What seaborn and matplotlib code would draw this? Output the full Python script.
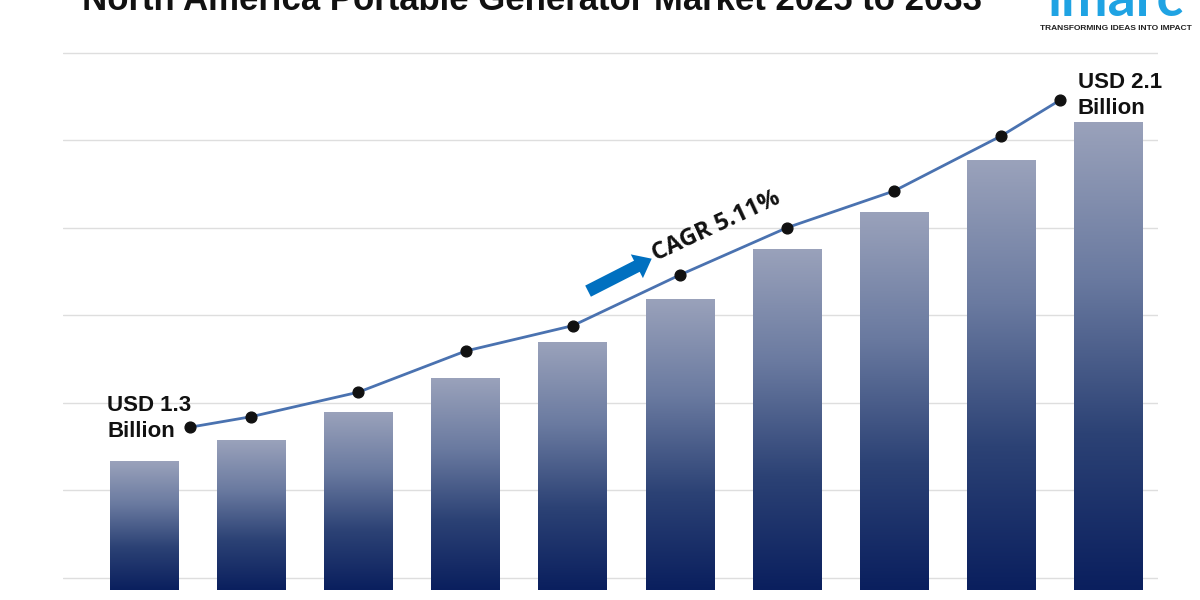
import numpy as np
import pandas as pd
import seaborn as sns
import matplotlib
matplotlib.use("Agg")
import matplotlib.pyplot as plt
from matplotlib.colors import LinearSegmentedColormap

# data (illustrative heights, in gridline units)
years = ["2024", "2025", "2026", "2027", "2028", "2029", "2030", "2031", "2032", "2033"]
bar_values = [1.47, 1.71, 2.03, 2.42, 2.83, 3.33, 3.90, 4.32, 4.91, 5.35]
trend_values = [1.86, 1.98, 2.26, 2.73, 3.02, 3.60, 4.14, 4.56, 5.19, 5.60]
start_label = "USD 1.3\nBillion"
end_label = "USD 2.1\nBillion"
cagr_label = "CAGR 5.11%"
title = "North America Portable Generator Market 2025 to 2033"

sns.set_theme(style="white")
plt.rcParams['font.family'] = ['Liberation Sans', 'DejaVu Sans']

fig = plt.figure(figsize=(12, 6), dpi=100)
ax = fig.add_axes([0.0525, 0.0133, 0.9125, 0.9034])

df = pd.DataFrame({"year": years, "value": bar_values})
sns.barplot(data=df, x="year", y="value", ax=ax, width=0.64, color="#3a4f85", zorder=2)

# gradient fill for each bar
cmap = LinearSegmentedColormap.from_list("bar", ["#0a1f5e", "#2c4275", "#6a7aa0", "#9aa2bb"])
grad = np.linspace(0, 1, 256).reshape(-1, 1)
for p in ax.patches:
    x0, y0 = p.get_x(), p.get_y()
    w, h = p.get_width(), p.get_height()
    im = ax.imshow(grad, cmap=cmap, aspect="auto", origin="lower",
                   extent=[x0, x0 + w, y0, y0 + h], zorder=2)
    im.set_clip_path(p)
    p.set_facecolor("none")
    p.set_edgecolor("none")

# gridlines
for k in range(7):
    ax.axhline(0.137 + k, color="#dedede", lw=1, zorder=1)

# trend line, offset on the ends like the original
line_x = np.arange(len(years)).astype(float)
line_x[0] = 0.43
line_x[-1] = 8.55
ax.plot(line_x, trend_values, color="#4a72b0", lw=2, zorder=3)
ax.scatter(line_x, trend_values, color="#111111", s=60, zorder=4)

ax.set_xlim(-0.755, 9.46)
ax.set_ylim(-0.023, 6.17)
ax.set_xticks([])
ax.set_yticks([])
ax.set_xlabel("")
ax.set_ylabel("")
sns.despine(ax=ax, left=True, bottom=True)

ax.text(-0.34, 2.23, start_label, fontsize=16, fontweight="bold", color="#111111",
        ha="left", va="top", linespacing=1.3, zorder=5)
ax.text(8.71, 5.92, end_label, fontsize=16, fontweight="bold", color="#111111",
        ha="left", va="top", linespacing=1.3, zorder=5)
ax.text(5.34, 4.16, cagr_label, fontsize=17, fontweight="bold", color="#111111",
        family=["Open Sans", "DejaVu Sans"], rotation=25, ha="center", va="center", zorder=5)
ax.annotate("", xy=(4.76, 3.80), xytext=(4.12, 3.40),
            arrowprops=dict(arrowstyle="simple,head_width=1.6,head_length=1.0,tail_width=0.75",
                            color="#0070c0", lw=0), zorder=5)

fig.text(0.443, 1.0, title, fontsize=25, fontweight="bold", color="#111111",
         ha="center", va="center")
fig.text(0.93, 1.0, "imarc", fontsize=40, fontweight="bold", color="#1fa3e3",
         ha="center", va="center", family=["Lato", "DejaVu Sans"])
fig.text(0.93, 0.952, "TRANSFORMING IDEAS INTO IMPACT", fontsize=6, fontweight="bold",
         color="#222222", ha="center", va="center")

fig.savefig("out.png", dpi=100)
